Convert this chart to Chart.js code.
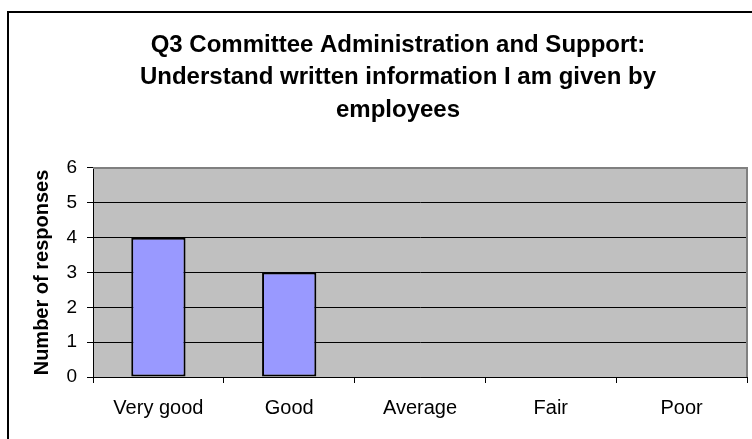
<!DOCTYPE html>
<html>
<head>
<meta charset="utf-8">
<script src="https://cdn.jsdelivr.net/npm/chart.js@4/dist/chart.umd.min.js"></script>
<style>
  html, body { margin: 0; padding: 0; background: #fff; overflow: hidden; }
  #wrap { position: absolute; left: 0; top: 0; width: 796px; height: 450px; }
</style>
</head>
<body>
<div id="wrap"><canvas id="chart" width="796" height="450"></canvas></div>
<script>
// Survey question and answers
const titleLines = [
  'Q3 Committee Administration and Support:',
  'Understand written information I am given by',
  'employees'
];
const categories = ['Very good', 'Good', 'Average', 'Fair', 'Poor'];
const responses = [4, 3, 0, 0, 0];
const yTicks = [0, 1, 2, 3, 4, 5, 6];
const yAxisTitle = 'Number of responses';

const FONT = "'Liberation Sans', Arial, Helvetica, sans-serif";

// Gray plot panel, outer frame and the panel's right edge
const panelPlugin = {
  id: 'panel',
  beforeDraw(chart) {
    const { ctx, chartArea: a } = chart;
    ctx.save();
    ctx.fillStyle = '#ffffff';
    ctx.fillRect(0, 0, chart.width, chart.height);
    ctx.strokeStyle = '#000000';
    ctx.lineWidth = 2;
    ctx.strokeRect(8, 12, 781, 434);
    ctx.fillStyle = '#C0C0C0';
    ctx.fillRect(a.left, a.top, a.right - a.left, a.bottom - a.top);
    ctx.restore();
  },
  beforeDatasetsDraw(chart) {
    const { ctx, chartArea: a } = chart;
    ctx.save();
    ctx.strokeStyle = '#808080';
    ctx.lineWidth = 2;
    ctx.beginPath();
    ctx.moveTo(a.left, a.top);
    ctx.lineTo(a.right, a.top);
    ctx.lineTo(a.right, a.bottom);
    ctx.stroke();
    ctx.restore();
  }
};

new Chart(document.getElementById('chart'), {
  type: 'bar',
  data: {
    labels: categories,
    datasets: [{
      label: yAxisTitle,
      data: responses,
      backgroundColor: '#9999FF',
      borderColor: '#000000',
      borderWidth: 2,
      borderSkipped: false,
      categoryPercentage: 1,
      barPercentage: 0.415
    }]
  },
  options: {
    responsive: false,
    animation: false,
    devicePixelRatio: 1,
    layout: { padding: { left: 8, right: 8, top: 12, bottom: 0 } },
    plugins: {
      legend: { display: false },
      tooltip: { enabled: false },
      title: {
        display: true,
        text: titleLines,
        color: '#000000',
        font: { family: FONT, size: 24, weight: 'bold', lineHeight: 1.354 },
        padding: { top: 16.75, bottom: 41.75 }
      }
    },
    scales: {
      x: {
        offset: true,
        grid: {
          offset: true,
          drawOnChartArea: false,
          drawTicks: true,
          tickLength: 6,
          color: '#000000',
          tickColor: '#000000',
          lineWidth: 1
        },
        border: { display: true, color: '#000000', width: 1 },
        ticks: {
          color: '#000000',
          font: { family: FONT, size: 20 },
          padding: 13,
          maxRotation: 0,
          autoSkip: false
        },
        afterFit(scale) { scale.height = 73; }
      },
      y: {
        min: yTicks[0],
        max: yTicks[yTicks.length - 1],
        grid: {
          color: (c) => (c.tick && c.tick.value === yTicks[yTicks.length - 1]) ? '#808080' : '#000000',
          tickColor: '#000000',
          lineWidth: 1,
          drawTicks: true,
          tickLength: 6
        },
        border: { display: true, color: '#000000', width: 1 },
        ticks: {
          stepSize: yTicks[1] - yTicks[0],
          color: '#000000',
          font: { family: FONT, size: 19 },
          padding: 10
        },
        title: {
          display: true,
          text: yAxisTitle,
          color: '#000000',
          font: { family: FONT, size: 20, weight: 'bold' },
          padding: { top: 22, bottom: 0 }
        },
        afterFit(scale) { scale.width = 85; }
      },
      yRight: {
        position: 'right',
        display: true,
        grid: { display: false },
        border: { display: false },
        ticks: { display: false },
        afterFit(scale) { scale.width = 41; }
      }
    }
  },
  plugins: [panelPlugin]
});
</script>
</body>
</html>
